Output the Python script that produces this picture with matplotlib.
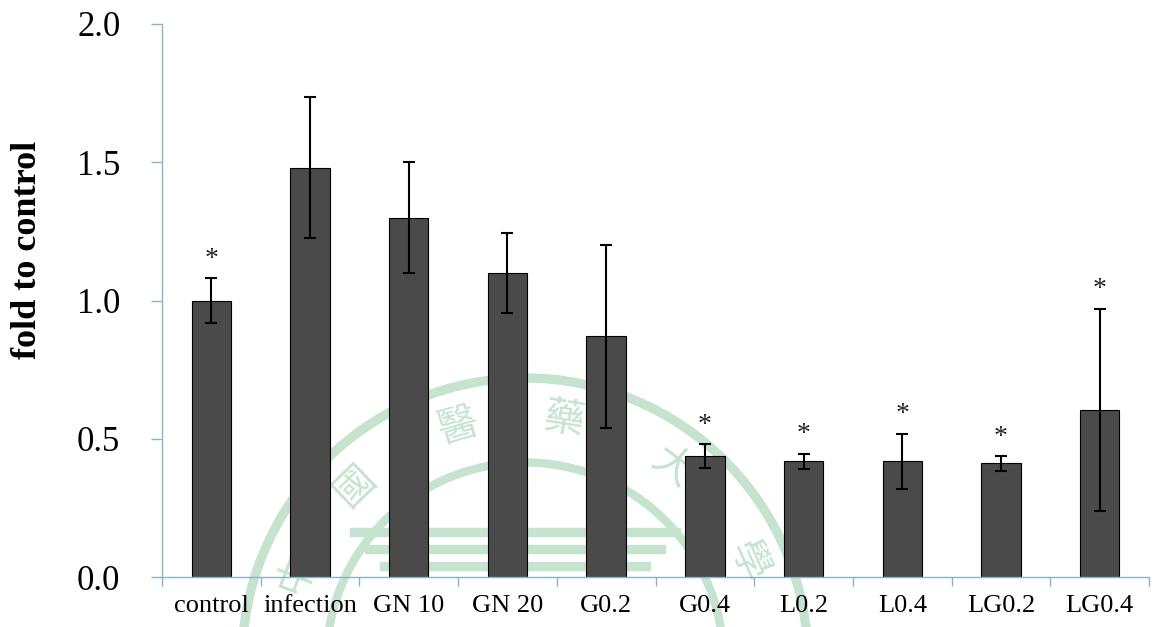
import matplotlib
matplotlib.use("Agg")
import matplotlib.pyplot as plt
import numpy as np
from matplotlib.patches import Wedge, Rectangle

groups = ['control', 'infection', 'GN 10', 'GN 20', 'G0.2', 'G0.4', 'L0.2', 'L0.4', 'LG0.2', 'LG0.4']
fold = [1.00, 1.48, 1.30, 1.10, 0.87, 0.437, 0.418, 0.418, 0.411, 0.604]
err = [0.08, 0.255, 0.20, 0.145, 0.33, 0.044, 0.028, 0.10, 0.026, 0.367]
signif = [True, False, False, False, False, True, True, True, True, True]

plt.rcParams['font.family'] = ['Liberation Serif', 'DejaVu Serif']

fig = plt.figure(figsize=(11.56, 6.27), dpi=100)

# faint seal watermark behind the chart (pixel coords)
bg = fig.add_axes([0, 0, 1, 1], zorder=0)
bg.set_xlim(0, 1156)
bg.set_ylim(627, 0)
bg.axis('off')
seal = '#c6e3d0'
cx, cy = 525, 661
bg.add_patch(Wedge((cx, cy), 287, 0, 360, width=8, color=seal))
bg.add_patch(Wedge((cx, cy), 202, 0, 360, width=7, color=seal))
chars = ['中', '國', '醫', '藥', '大', '學']
angles = [-159, -134, -106, -81, -53, -24]
for ch, a in zip(chars, angles):
    r = 244
    x = cx + r * np.cos(np.radians(a))
    y = cy + r * np.sin(np.radians(a))
    bg.text(x, y, ch, fontsize=29, color=seal, ha='center', va='center',
            rotation=-(a + 90), family=['Noto Sans CJK TC', 'DejaVu Sans'])
for k, yy in enumerate([528, 545, 562]):
    bg.add_patch(Rectangle((350 + 15 * k, yy), 330 - 30 * k, 8, color=seal))

ax = fig.add_axes([162 / 1156, 50 / 627, 987 / 1156, 553 / 627], zorder=1)
ax.patch.set_alpha(0)

x = np.arange(len(groups))
ax.bar(x, fold, width=0.4, color='#4a4a4a', edgecolor='black', linewidth=0.8, zorder=2)
ax.errorbar(x, fold, yerr=err, fmt='none', ecolor='black', elinewidth=1.5,
            capsize=4, capthick=1.5, zorder=3)

for i in range(len(groups)):
    if signif[i]:
        ax.annotate('*', (x[i], fold[i] + err[i]), xytext=(0, 9), textcoords='offset points',
                    ha='center', va='baseline', fontsize=20, color='#222222')

axis_col = '#8ab3c6'
ax.set_xlim(-0.5, len(groups) - 0.5)
ax.set_ylim(0, 2.0)
ax.set_yticks([0, 0.5, 1.0, 1.5, 2.0])
ax.set_yticklabels(['0.0', '0.5', '1.0', '1.5', '2.0'], fontsize=25)
ax.set_xticks(x)
ax.set_xticklabels(groups, fontsize=19)
ax.set_xticks(np.arange(-0.5, len(groups)), minor=True)
ax.tick_params(axis='x', which='major', length=0, pad=13)
ax.tick_params(axis='x', which='minor', length=6.5, width=1, color=axis_col, direction='out')
ax.tick_params(axis='y', length=8, width=1, color=axis_col, direction='out', pad=22)

for s in ['top', 'right']:
    ax.spines[s].set_visible(False)
for s in ['left', 'bottom']:
    ax.spines[s].set_color(axis_col)
    ax.spines[s].set_linewidth(1)

ax.set_ylabel('fold to control', fontsize=26, fontweight='bold')
ax.yaxis.set_label_coords(-0.12, 0.591)

fig.savefig('out.png', dpi=100)
